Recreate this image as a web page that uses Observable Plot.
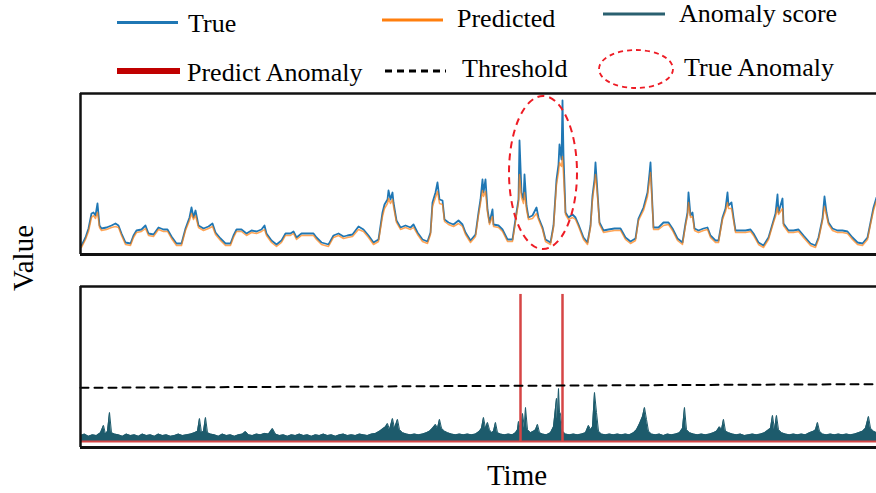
<!DOCTYPE html>
<html>
<head>
<meta charset="utf-8">
<script src="https://cdn.jsdelivr.net/npm/d3@7"></script>
<script src="https://cdn.jsdelivr.net/npm/@observablehq/plot@0.6"></script>
<style>
  html, body { margin: 0; padding: 0; background: #fff; }
  #page { position: relative; width: 876px; height: 493px; overflow: hidden; background: #fff; }
  #top, #bottom { position: absolute; left: 0; }
  #top { top: 88px; }
  #bottom { top: 281px; }
  #overlay { position: absolute; left: 0; top: 0; pointer-events: none; }
  #overlay text { font-family: "Liberation Serif", "DejaVu Serif", serif; fill: #000; }
</style>
</head>
<body>
<div id="page">
  <div id="top"></div>
  <div id="bottom"></div>
  <svg id="overlay" width="876" height="493">
    <!-- legend row 1 -->
    <line x1="117" x2="178" y1="22.5" y2="22.5" stroke="#1f77b4" stroke-width="3"/>
    <text x="188" y="32" font-size="26">True</text>
    <line x1="382" x2="443" y1="20" y2="20" stroke="#ff7f0e" stroke-width="3"/>
    <text x="457" y="27" font-size="26">Predicted</text>
    <line x1="603" x2="665" y1="14" y2="14" stroke="#2a6070" stroke-width="3"/>
    <text x="679" y="22" font-size="26">Anomaly score</text>
    <!-- legend row 2 -->
    <line x1="117" x2="180" y1="71" y2="71" stroke="#c00000" stroke-width="6"/>
    <text x="187" y="81" font-size="26">Predict Anomaly</text>
    <line x1="385" x2="446" y1="71" y2="71" stroke="#000" stroke-width="3" stroke-dasharray="7,5"/>
    <text x="462" y="77" font-size="26">Threshold</text>
    <ellipse cx="636" cy="69" rx="37" ry="19" fill="none" stroke="#ee1c25" stroke-width="1.8" stroke-dasharray="5,4"/>
    <text x="684" y="76" font-size="26">True Anomaly</text>
    <!-- axis labels -->
    <text x="0" y="0" font-size="29" text-anchor="middle" transform="translate(33,258) rotate(-90)">Value</text>
    <text x="517" y="485" font-size="29" text-anchor="middle">Time</text>
  </svg>
</div>
<script>
// ---------- top panel: true vs predicted (time index, value) ----------
const time = [1,5,8,11,13,15,17,19,21,26,31,35,38,41,45,50,53,56,61,65,68,73,78,83,87,91,96,101,105,109,111,113,115,118,123,128,132,135,140,145,150,153,156,161,166,171,176,181,184,186,191,196,201,205,210,213,216,221,228,233,236,241,248,253,258,263,267,272,278,283,288,293,298,302,304,307,308,310,312,313,316,320,325,330,333,337,342,347,350,352,355,357,359,362,364,368,373,378,382,385,390,395,398,400,402,403,405,407,409,412,413,418,422,427,432,436,438,439,441,443,444,446,448,452,456,458,462,465,470,473,476,478,479,481,482,483,485,488,492,495,498,503,507,510,512,514,515,517,519,523,528,534,540,545,550,555,558,563,567,569,570,572,573,578,583,588,592,597,602,605,607,608,610,612,614,618,623,627,630,635,638,642,645,647,648,651,653,655,660,665,670,673,678,683,688,693,695,697,698,702,703,708,713,718,723,730,735,738,742,744,746,748,752,757,762,767,772,777,782,787,790,793,796];
const trueValue = [9,17,26,41,42,39,51,29,26,27,29,31,29,21,12,11,19,24,25,29,21,20,27,25,25,18,11,11,26,37,47,37,44,29,26,28,31,22,16,11,11,19,25,25,21,24,23,25,29,21,14,10,14,21,21,23,17,21,21,21,17,12,10,19,21,18,19,20,28,25,19,12,15,42,50,55,64,55,62,52,34,27,29,27,30,22,15,13,22,52,62,72,55,54,35,32,30,34,30,22,14,20,42,55,75,62,75,45,32,45,30,29,25,15,15,42,55,114,62,55,80,49,37,39,47,37,27,15,12,29,75,90,110,95,154,99,42,37,40,37,30,17,12,29,59,75,92,62,32,24,25,26,26,17,13,16,36,47,62,81,92,47,27,27,32,32,26,16,12,31,42,62,39,42,26,24,26,27,19,14,14,37,46,62,49,52,37,24,24,24,25,21,12,9,17,34,41,60,42,56,31,24,24,25,19,11,9,17,36,58,42,32,26,24,24,23,17,12,11,17,32,47,57];
const predictedValue = [7,15,23,37,39,36,42,27,24,25,27,28,27,19,10,9,17,22,23,26,19,18,25,23,23,16,9,9,24,34,41,35,39,27,24,26,28,20,14,9,9,17,23,23,19,22,21,23,25,19,12,8,12,19,19,21,15,19,19,19,15,10,8,17,19,16,17,18,25,23,17,10,13,38,46,51,56,51,55,48,32,25,27,25,27,20,13,11,20,48,57,63,51,50,33,30,28,31,28,20,12,18,39,51,64,58,63,42,30,38,28,27,23,13,13,39,52,80,57,51,62,45,35,36,41,35,25,13,10,27,70,82,92,88,98,80,40,35,37,35,28,15,10,27,55,70,80,58,30,22,23,24,24,15,11,14,34,44,58,74,82,45,25,25,29,30,24,14,10,29,39,52,37,38,24,22,24,25,17,12,12,35,43,52,46,46,34,22,22,22,23,19,10,7,15,32,38,47,40,46,29,22,22,23,17,9,7,15,34,48,39,30,24,22,22,21,15,10,9,15,30,44,54];
const valueDomain = [0, 161];
const trueAnomaly = [{start: 429, end: 497, low: 5, high: 158}];

// ---------- bottom panel: anomaly score, threshold, predicted anomalies ----------
const scoreTime = [0,4,8,12,16,20,23,25,27,29,31,34,38,42,46,50,54,58,62,66,70,74,78,82,86,90,94,98,102,106,110,114,117,119,121,123,125,127,130,134,138,142,146,150,154,158,162,165,168,172,176,180,184,188,192,195,199,203,207,211,215,219,223,227,231,235,239,243,247,251,255,259,263,267,271,275,279,283,287,291,295,299,302,305,307,309,312,314,317,319,322,326,330,334,338,342,346,349,352,355,357,359,361,364,367,371,375,379,383,387,391,395,399,401,403,405,407,409,411,413,415,417,420,424,428,432,435,437,438,440,442,444,445,447,450,453,455,457,459,462,466,470,473,476,477,478,479,480,482,485,489,493,497,501,505,508,510,512,514,516,518,521,525,529,533,537,541,545,549,553,556,559,562,564,566,568,571,575,579,583,587,591,595,599,602,604,606,609,613,617,621,625,629,633,636,639,641,643,645,648,652,656,660,664,668,672,676,680,684,688,690,692,694,696,698,701,705,709,713,717,721,725,729,733,735,737,739,742,746,750,754,758,762,766,770,774,778,782,785,788,790,793,796];
const scoreValue = [0.04,0.05,0.035,0.045,0.04,0.06,0.109,0.05,0.07,0.197,0.06,0.05,0.045,0.035,0.05,0.04,0.045,0.035,0.05,0.04,0.045,0.035,0.05,0.04,0.045,0.035,0.04,0.05,0.04,0.045,0.05,0.06,0.07,0.156,0.06,0.07,0.163,0.06,0.05,0.045,0.035,0.05,0.04,0.045,0.035,0.045,0.05,0.068,0.045,0.04,0.05,0.045,0.055,0.05,0.088,0.05,0.04,0.045,0.035,0.045,0.04,0.05,0.04,0.045,0.035,0.045,0.04,0.05,0.04,0.045,0.035,0.045,0.05,0.04,0.045,0.04,0.05,0.045,0.04,0.05,0.055,0.07,0.085,0.1,0.122,0.08,0.156,0.09,0.15,0.08,0.06,0.05,0.045,0.05,0.045,0.05,0.06,0.07,0.09,0.116,0.09,0.15,0.09,0.07,0.06,0.05,0.045,0.05,0.045,0.05,0.045,0.05,0.07,0.09,0.163,0.09,0.129,0.08,0.06,0.07,0.129,0.06,0.05,0.045,0.05,0.045,0.06,0.08,0.136,0.07,0.19,0.09,0.231,0.08,0.06,0.07,0.08,0.116,0.06,0.05,0.045,0.06,0.1,0.293,0.15,0.36,0.2,0.19,0.07,0.05,0.045,0.05,0.045,0.05,0.06,0.109,0.08,0.1,0.333,0.197,0.07,0.05,0.045,0.05,0.045,0.05,0.045,0.05,0.045,0.06,0.08,0.12,0.17,0.231,0.15,0.07,0.05,0.045,0.05,0.04,0.05,0.045,0.05,0.06,0.09,0.231,0.08,0.06,0.05,0.045,0.05,0.045,0.05,0.06,0.07,0.1,0.08,0.15,0.07,0.06,0.05,0.045,0.05,0.04,0.045,0.05,0.045,0.05,0.06,0.08,0.09,0.177,0.08,0.177,0.08,0.06,0.05,0.045,0.05,0.045,0.05,0.045,0.06,0.07,0.08,0.129,0.07,0.05,0.045,0.05,0.045,0.05,0.045,0.05,0.045,0.05,0.06,0.07,0.09,0.17,0.09,0.07,0.06];
const thresholdTime = [0, 796];
const thresholdValue = [0.365, 0.39];
const predictAnomalyTime = [440, 482];
const scoreDomain = [-0.041, 1.054];

const timeDomain = [0, 796];
const colors = {true: "#1f77b4", predicted: "#ff7f0e", score: "#1d5b6c", predict: "#d64545", ellipse: "#ee1c25"};

const trueData = time.map((t, i) => ({t, v: trueValue[i]}));
const predData = time.map((t, i) => ({t, v: predictedValue[i]}));
const scoreData = scoreTime.map((t, i) => ({t, v: scoreValue[i]}));
const thresholdData = thresholdTime.map((t, i) => ({t, v: thresholdValue[i]}));

function frameMarks(domain) {
  return [
    Plot.ruleY([domain[1]], {stroke: "#111", strokeWidth: 2.5}),
    Plot.ruleY([domain[0]], {stroke: "#111", strokeWidth: 3}),
    Plot.ruleX([timeDomain[0]], {stroke: "#111", strokeWidth: 2.5})
  ];
}

const ellipseMark = (index, scales) => {
  const x = scales.x, y = scales.y;
  const g = d3.create("svg:g");
  for (const r of trueAnomaly) {
    const x0 = x(r.start), x1 = x(r.end), y0 = y(r.low), y1 = y(r.high);
    g.append("ellipse")
      .attr("cx", (x0 + x1) / 2).attr("cy", (y0 + y1) / 2)
      .attr("rx", Math.abs(x1 - x0) / 2).attr("ry", Math.abs(y0 - y1) / 2)
      .attr("fill", "none").attr("stroke", colors.ellipse)
      .attr("stroke-width", 2).attr("stroke-dasharray", "7,5");
  }
  return g.node();
};

const topPlot = Plot.plot({
  width: 876, height: 171,
  marginLeft: 80, marginRight: 0, marginTop: 5, marginBottom: 5,
  style: {background: "transparent", overflow: "visible"},
  x: {domain: timeDomain, axis: null},
  y: {domain: valueDomain, axis: null},
  marks: [
    Plot.line(trueData, {x: "t", y: "v", stroke: colors.true, strokeWidth: 1.8}),
    Plot.line(predData, {x: "t", y: "v", stroke: colors.predicted, strokeWidth: 1.5, strokeOpacity: 0.7}),
    ellipseMark,
    ...frameMarks(valueDomain)
  ]
});
document.getElementById("top").appendChild(topPlot);

const bottomPlot = Plot.plot({
  width: 876, height: 171,
  marginLeft: 80, marginRight: 0, marginTop: 5, marginBottom: 5,
  style: {background: "transparent", overflow: "visible"},
  x: {domain: timeDomain, axis: null},
  y: {domain: scoreDomain, axis: null},
  marks: [
    Plot.areaY(scoreData, {x: "t", y: "v", fill: colors.score}),
    Plot.line(scoreData, {x: "t", y: "v", stroke: colors.score, strokeWidth: 1}),
    Plot.ruleY([0], {stroke: colors.predict, strokeWidth: 2}),
    Plot.ruleX(predictAnomalyTime, {x: d => d, y1: 0, y2: 1, stroke: colors.predict, strokeWidth: 2.5}),
    Plot.line(thresholdData, {x: "t", y: "v", stroke: "#000", strokeWidth: 2, strokeDasharray: "8,6"}),
    ...frameMarks(scoreDomain)
  ]
});
document.getElementById("bottom").appendChild(bottomPlot);
</script>
</body>
</html>
